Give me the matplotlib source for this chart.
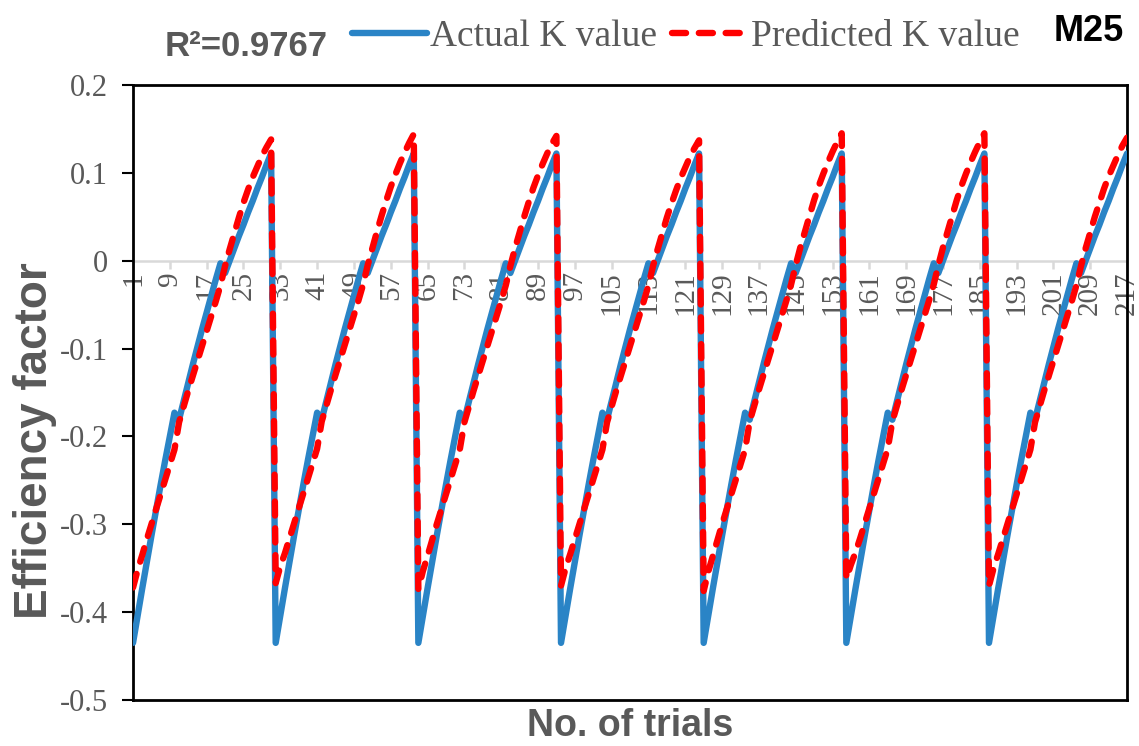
import numpy as np
import matplotlib.pyplot as plt

# --- data: 7 repeated blocks of 31 trials ---
actual_cycle = [-0.435, -0.404, -0.373, -0.343, -0.313, -0.284, -0.255, -0.227, -0.200, -0.173,
                -0.181, -0.160, -0.139, -0.118, -0.098, -0.078, -0.059, -0.040, -0.021, -0.003,
                -0.014, 0.000, 0.014, 0.028, 0.041, 0.055, 0.068, 0.082, 0.095, 0.109, 0.122]
n_cycles = 7

pred_1 = [-0.372, -0.352, -0.335, -0.317, -0.300, -0.283, -0.266, -0.249, -0.232, -0.215,
          -0.184, -0.166, -0.148, -0.131, -0.114, -0.097, -0.080, -0.063, -0.046, -0.028,
          -0.006, 0.013, 0.031, 0.049, 0.066, 0.081, 0.095, 0.107, 0.119, 0.129, 0.138]
pred_2 = [-0.367, -0.348, -0.333, -0.316, -0.299, -0.282, -0.265, -0.248, -0.231, -0.214,
          -0.183, -0.165, -0.147, -0.130, -0.113, -0.096, -0.079, -0.062, -0.045, -0.027,
          -0.005, 0.014, 0.033, 0.051, 0.068, 0.084, 0.098, 0.111, 0.123, 0.134, 0.144]
pred_3 = [-0.374, -0.353, -0.336, -0.318, -0.300, -0.283, -0.266, -0.249, -0.232, -0.215,
          -0.184, -0.166, -0.148, -0.131, -0.114, -0.097, -0.080, -0.063, -0.046, -0.028,
          -0.006, 0.014, 0.032, 0.050, 0.067, 0.083, 0.097, 0.110, 0.122, 0.133, 0.142]
pred_4 = [-0.370, -0.350, -0.334, -0.317, -0.300, -0.283, -0.266, -0.249, -0.232, -0.215,
          -0.184, -0.166, -0.148, -0.131, -0.114, -0.097, -0.080, -0.063, -0.046, -0.028,
          -0.006, 0.013, 0.031, 0.049, 0.065, 0.080, 0.094, 0.106, 0.118, 0.128, 0.137]
pred_5 = [-0.376, -0.354, -0.336, -0.318, -0.300, -0.283, -0.266, -0.249, -0.232, -0.215,
          -0.183, -0.165, -0.147, -0.130, -0.113, -0.096, -0.079, -0.062, -0.045, -0.027,
          -0.005, 0.015, 0.033, 0.051, 0.069, 0.085, 0.099, 0.112, 0.124, 0.135, 0.145]
pred_6 = [-0.362, -0.346, -0.332, -0.316, -0.299, -0.282, -0.265, -0.248, -0.231, -0.214,
          -0.183, -0.165, -0.147, -0.130, -0.113, -0.096, -0.079, -0.062, -0.045, -0.027,
          -0.005, 0.015, 0.033, 0.051, 0.069, 0.085, 0.099, 0.112, 0.124, 0.135, 0.145]
pred_7 = [-0.370, -0.350, -0.334, -0.317, -0.300, -0.283, -0.266, -0.249, -0.232, -0.215,
          -0.184, -0.166, -0.148, -0.131, -0.114, -0.097, -0.080, -0.063, -0.046, -0.028,
          -0.006, 0.014, 0.032, 0.050, 0.066, 0.082, 0.096, 0.108, 0.120, 0.131, 0.140]

actual = actual_cycle * n_cycles
predicted = pred_1 + pred_2 + pred_3 + pred_4 + pred_5 + pred_6 + pred_7
trials = np.arange(1, len(actual) + 1)

xtick_step = 8
xtick_pos = trials[::xtick_step]
ytick_vals = [-0.5, -0.4, -0.3, -0.2, -0.1, 0, 0.1, 0.2]
ytick_labels = ['-0.5', '-0.4', '-0.3', '-0.2', '-0.1', '0', '0.1', '0.2']

r2_text = 'R\u00b2=0.9767'
model_tag = 'M25'

# --- colours / fonts ---
blue = '#2A84C6'
red = '#FF0000'
grey_txt = '#595959'
serif = 'Liberation Serif'
sans = 'Liberation Sans'

fig = plt.figure(figsize=(11.39, 7.46), dpi=100)
ax = fig.add_axes([0.1168, 0.0617, 0.8727, 0.8244])

# zero line with its category ticks and labels
ax.axhline(0, color='#D9D9D9', lw=1.8, zorder=1)
ax.vlines(xtick_pos, -0.010, 0, color='#D9D9D9', lw=1.8, zorder=1)
for t in xtick_pos:
    ax.text(t, -0.012, str(t), rotation=90, ha='center', va='top',
            fontsize=21, family=serif, color=grey_txt, zorder=1)

ax.plot(trials, actual, color=blue, lw=4.6, solid_joinstyle='round',
        solid_capstyle='round', label='Actual K value', zorder=3)
ax.plot(trials, predicted, color=red, lw=4.6, linestyle=(0, (2.2, 2.0)),
        dash_capstyle='round', dash_joinstyle='round',
        label='Predicted K value', zorder=4)

ax.set_xlim(trials[0], trials[-1])
ax.set_ylim(-0.5, 0.2)
ax.set_xticks([])
ax.set_yticks(ytick_vals)
ax.set_yticklabels(ytick_labels, fontsize=22, family=serif, color=grey_txt)
ax.tick_params(axis='y', length=8, width=1.5, color='black', pad=10)
for s in ax.spines.values():
    s.set_linewidth(2.0)
    s.set_color('black')

fig.text(0.031, 0.41, 'Efficiency factor', rotation=90, ha='center', va='center',
         fontsize=33, fontweight='bold', family=sans, color=grey_txt)
fig.text(0.553, 0.027, 'No. of trials', ha='center', va='center',
         fontsize=27, fontweight='bold', family=sans, color=grey_txt)
fig.text(0.216, 0.938, r2_text, ha='center', va='center',
         fontsize=25, fontweight='bold', family=sans, color=grey_txt)
fig.text(0.956, 0.958, model_tag, ha='center', va='center',
         fontsize=26, fontweight='bold', family=sans, color='black')

fig.legend(loc='center', bbox_to_anchor=(0.602, 0.951), ncol=2, frameon=False,
           prop={'family': serif, 'size': 27}, labelcolor=grey_txt,
           handlelength=2.0, handletextpad=0.1, columnspacing=0.4)

fig.savefig('out.png', dpi=100)
